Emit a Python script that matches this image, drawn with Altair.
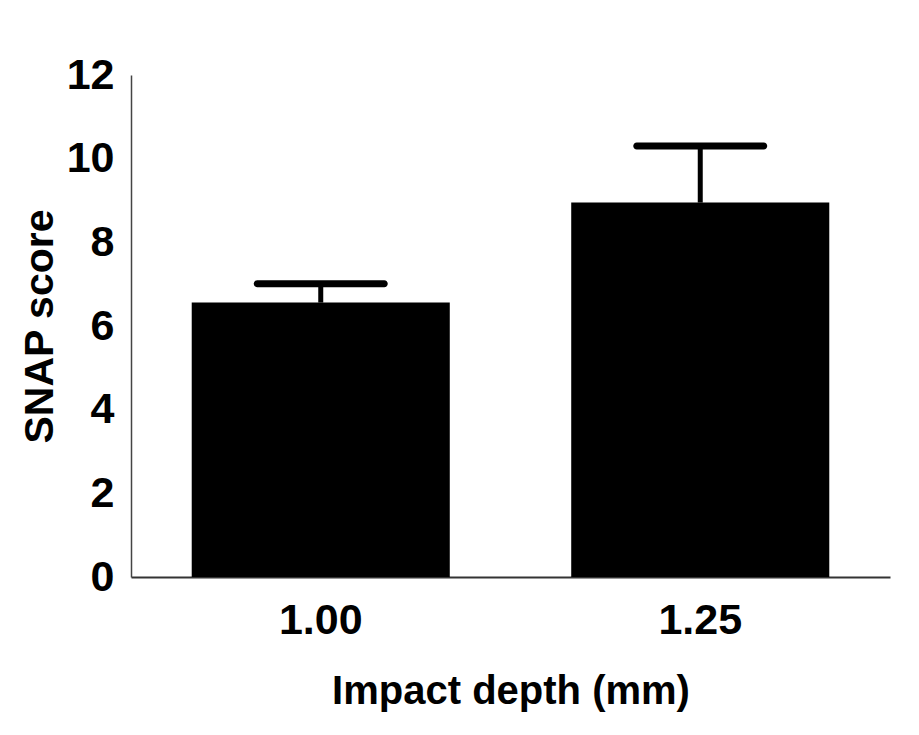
import altair as alt
import pandas as pd

depths = ["1.00", "1.25"]
means = [6.56, 8.95]
uppers = [7.01, 10.30]

df = pd.DataFrame({"depth": depths, "mean": means, "upper": uppers})

FONT = "Liberation Sans"

x_enc = alt.X(
    "depth:N",
    sort=depths,
    title="Impact depth (mm)",
    scale=alt.Scale(paddingInner=0.32, paddingOuter=0.16),
    axis=alt.Axis(
        labelAngle=0,
        labelFontSize=43,
        labelFont=FONT,
        labelFontWeight="bold",
        labelColor="black",
        labelPadding=22,
        ticks=False,
        domainColor="#333333",
        domainWidth=2,
        titleFontSize=40,
        titleFont=FONT,
        titleFontWeight="bold",
        titleColor="black",
        titlePadding=29,
    ),
)

y_scale = alt.Scale(domain=[0, 12], nice=False)

bars = alt.Chart(df).mark_bar(color="black").encode(
    x=x_enc,
    y=alt.Y(
        "mean:Q",
        scale=y_scale,
        title="SNAP score",
        axis=alt.Axis(
            values=[0, 2, 4, 6, 8, 10, 12],
            grid=False,
            ticks=False,
            labelFontSize=43,
            labelFont=FONT,
            labelFontWeight="bold",
            labelColor="black",
            labelPadding=17,
            domainColor="#444444",
            domainWidth=1.5,
            titleFontSize=41,
            titleFont=FONT,
            titleFontWeight="bold",
            titleColor="black",
            titlePadding=5,
        ),
    ),
)

stems = alt.Chart(df).mark_rule(color="black", strokeWidth=5).encode(
    x=alt.X("depth:N", sort=depths),
    y=alt.Y("mean:Q", scale=y_scale),
    y2="upper:Q",
)

caps = alt.Chart(df).mark_tick(
    color="black", opacity=1, orient="horizontal", size=134, thickness=7, cornerRadius=3.5
).encode(
    x=alt.X("depth:N", sort=depths),
    y=alt.Y("upper:Q", scale=y_scale),
)

chart = (
    alt.layer(bars, stems, caps)
    .properties(
        width=759,
        height=502,
        autosize=alt.AutoSizeParams(type="none"),
        padding={"left": 123, "top": 67, "right": 20, "bottom": 150},
        view=alt.ViewBackground(stroke="transparent", strokeWidth=0),
    )
    .configure_view(strokeWidth=0, stroke="transparent", strokeOpacity=0)
    .configure(background="white")
)

chart.save("out.html", embed_options={"renderer": "svg", "actions": False})
